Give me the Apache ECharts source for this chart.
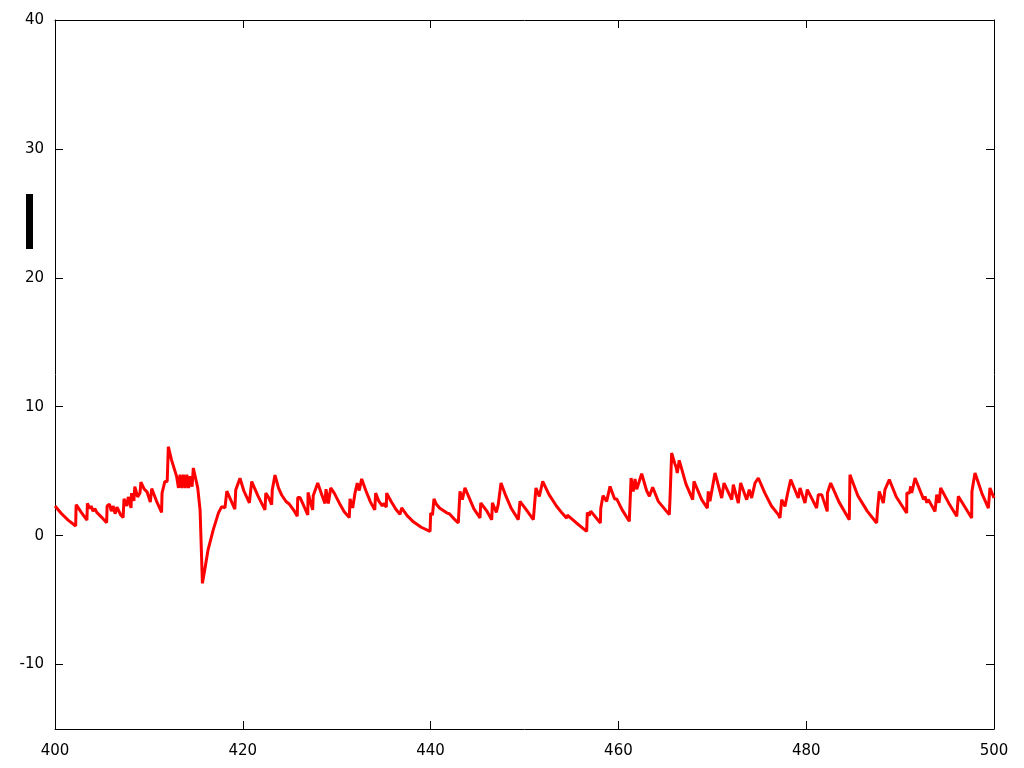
<!DOCTYPE html>
<html>
<head>
<meta charset="utf-8">
<script src="https://cdn.jsdelivr.net/npm/echarts@6/dist/echarts.min.js"></script>
<style>html,body{margin:0;padding:0;background:#fff}#c{width:1024px;height:768px}</style>
</head>
<body>
<div id="c"></div>
<script>
var xTicks = [400, 420, 440, 460, 480, 500];
var yTicks = [-10, 0, 10, 20, 30, 40];
var xs = [
400.00,400.70,401.40,402.20,402.25,402.80,403.40,403.45,403.70,403.85,404.05,404.25,404.45,405.00,405.50,405.55,405.80,406.00,406.20,406.40,
406.60,407.00,407.25,407.35,407.65,407.80,408.10,408.15,408.40,408.50,408.80,409.05,409.15,409.50,409.80,410.15,410.30,410.80,411.35,411.40,
411.60,411.70,411.95,412.07,412.40,412.95,413.15,413.32,413.50,413.68,413.86,414.04,414.22,414.40,414.60,414.73,415.20,415.45,415.55,415.70,
415.95,416.30,416.85,417.40,417.75,418.10,418.25,418.30,419.15,419.25,419.45,419.70,420.10,420.70,420.80,420.95,421.10,421.60,422.36,422.45,
422.75,423.07,423.14,423.43,423.80,424.14,424.30,424.60,424.75,424.95,425.10,425.45,425.80,425.85,426.10,426.50,426.92,426.95,427.20,427.44,
427.50,427.70,427.98,428.40,428.75,428.86,429.11,429.36,429.74,430.30,430.80,431.34,431.42,431.70,431.95,432.10,432.19,432.40,432.66,433.10,
433.60,434.05,434.15,434.50,434.65,434.85,435.00,435.28,435.32,435.80,436.30,436.74,436.92,437.50,438.20,439.00,439.94,440.01,440.20,440.36,
440.60,440.75,440.95,441.15,441.35,441.55,441.75,442.00,442.50,442.95,443.13,443.38,443.66,444.10,444.60,445.26,445.34,445.55,446.00,446.51,
446.58,447.00,447.20,447.50,448.00,448.60,449.34,449.52,450.20,450.94,451.22,451.58,451.94,452.60,453.40,454.00,454.49,454.56,455.50,456.62,
456.69,456.90,457.05,458.08,458.12,458.20,458.36,458.75,459.11,459.60,459.82,460.40,461.16,461.35,461.58,461.77,461.95,462.48,463.00,463.30,
463.45,463.65,464.25,464.43,465.00,465.42,465.50,465.67,466.00,466.15,466.27,466.48,467.20,467.91,468.05,468.87,468.95,469.47,469.57,469.75,
470.29,471.00,471.25,472.07,472.24,472.77,473.02,473.66,473.94,474.19,474.55,474.90,475.60,476.30,477.03,477.21,477.39,477.74,478.03,478.35,
479.16,479.34,479.87,480.12,481.11,481.29,481.65,482.24,482.26,482.45,482.61,483.50,484.59,484.66,485.50,486.50,487.50,487.61,487.78,488.21,
488.39,488.60,488.85,489.60,490.70,490.72,491.00,491.13,491.24,491.59,492.30,492.50,492.65,492.85,493.00,493.72,493.90,494.15,494.32,495.20,
496.03,496.20,497.00,497.62,497.65,497.80,497.98,498.70,499.40,499.57,500.00
];
var ys = [
2.30,1.70,1.20,0.75,2.40,1.80,1.20,2.50,2.10,2.30,1.90,2.10,1.80,1.40,1.00,2.30,2.45,1.90,2.30,1.70,
2.20,1.60,1.40,2.85,2.30,3.00,2.15,3.30,2.70,3.80,3.00,3.30,4.15,3.60,3.40,2.60,3.65,2.70,1.80,3.30,
3.35,4.20,4.20,6.90,5.90,4.60,3.70,4.73,3.70,4.73,3.70,4.73,3.70,4.60,3.80,5.25,3.70,2.00,-0.30,-3.70,
-2.65,-1.10,0.45,1.75,2.25,2.15,2.00,3.45,2.05,3.55,3.55,4.45,3.50,2.55,2.55,4.20,4.15,3.10,2.00,3.30,
2.95,2.40,3.55,4.70,3.70,3.15,3.10,2.65,2.80,2.45,2.60,1.95,1.50,2.95,2.95,2.30,1.60,3.35,2.60,2.00,
3.10,3.10,4.08,3.20,2.50,3.60,2.50,3.70,3.30,2.50,1.85,1.40,2.85,2.15,3.30,3.30,4.08,3.50,4.40,3.50,
2.60,2.00,3.30,2.65,2.75,2.30,2.50,2.20,3.30,2.65,2.05,1.65,2.15,1.55,1.05,0.65,0.33,1.76,1.60,2.85,
2.45,2.55,2.15,2.30,1.95,2.05,1.75,1.70,1.30,0.98,3.43,2.79,3.70,2.95,2.10,1.37,2.53,2.60,1.90,1.24,
2.55,1.80,2.40,4.08,3.10,2.10,1.24,2.66,2.00,1.24,3.70,3.05,4.21,3.20,2.30,1.75,1.35,1.60,1.00,0.33,
1.80,1.55,1.90,0.98,2.10,2.20,3.10,2.66,3.82,2.85,2.85,2.00,1.11,4.47,3.43,4.40,3.60,4.80,3.50,3.05,
3.00,3.75,2.66,2.79,2.00,1.63,2.92,6.41,5.60,5.30,4.86,5.84,4.00,2.79,4.21,2.79,2.79,2.14,3.43,2.66,
4.86,2.92,4.08,2.79,3.95,2.53,4.08,2.79,3.57,2.92,4.08,4.47,3.30,2.30,1.63,1.37,2.79,2.27,3.31,4.34,
2.92,3.70,2.53,3.57,2.14,3.18,3.18,1.88,3.31,3.31,4.08,2.60,1.24,4.73,3.10,1.90,0.98,2.14,3.43,2.53,
3.57,3.57,4.34,3.00,1.76,3.31,3.31,3.82,3.31,4.47,3.18,2.80,3.05,2.55,2.80,1.88,3.18,2.55,3.70,2.50,
1.50,3.05,2.10,1.37,3.43,4.10,4.86,3.30,2.14,3.70,2.92
];
var seriesData = xs.map(function (x, i) { return [x, ys[i]]; });

var chart = echarts.init(document.getElementById('c'), null, { renderer: 'canvas' });
var font = { fontFamily: 'DejaVu Sans', fontSize: 15, color: '#000' };
var lineStyle = { color: '#000', width: 1 };
chart.setOption({
  animation: false,
  backgroundColor: '#fff',
  grid: { left: 55, right: 30, top: 20, bottom: 39, containLabel: false },
  xAxis: [{
    type: 'value', position: 'bottom', min: 400, max: 500, interval: 20,
    axisLine: { show: true, onZero: false, lineStyle: lineStyle },
    axisTick: { show: true, inside: true, length: 8, lineStyle: lineStyle, customValues: xTicks },
    axisLabel: Object.assign({ margin: 15, customValues: xTicks }, font),
    splitLine: { show: false }
  }, {
    type: 'value', position: 'top', min: 400, max: 500, interval: 20,
    axisLine: { show: true, onZero: false, lineStyle: lineStyle },
    axisTick: { show: true, inside: true, length: 8, lineStyle: lineStyle, customValues: xTicks },
    axisLabel: { show: false },
    splitLine: { show: false }
  }],
  yAxis: [{
    type: 'value', position: 'left', min: -15, max: 40,
    axisLine: { show: true, onZero: false, lineStyle: lineStyle },
    axisTick: { show: true, inside: true, length: 8, lineStyle: lineStyle, customValues: yTicks },
    axisLabel: Object.assign({ margin: 11, padding: [4, 0, 0, 0], customValues: yTicks }, font),
    splitLine: { show: false }
  }, {
    type: 'value', position: 'right', min: -15, max: 40,
    axisLine: { show: true, onZero: false, lineStyle: lineStyle },
    axisTick: { show: true, inside: true, length: 8, lineStyle: lineStyle, customValues: yTicks },
    axisLabel: { show: false },
    splitLine: { show: false }
  }],
  graphic: [{
    type: 'rect', left: 26, top: 194, shape: { width: 7, height: 55 },
    style: { fill: '#000' }, silent: true
  }],
  series: [{
    type: 'line', xAxisIndex: 0, yAxisIndex: 0,
    data: seriesData, showSymbol: false, symbol: 'none',
    lineStyle: { color: '#ff0000', width: 3 },
    itemStyle: { color: '#ff0000' }
  }]
});
</script>
</body>
</html>
